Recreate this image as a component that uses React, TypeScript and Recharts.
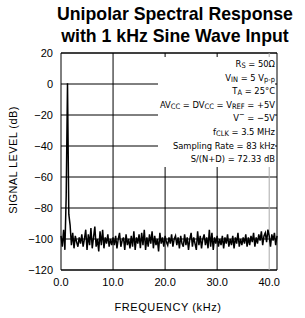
import {
  CartesianGrid,
  Line,
  LineChart,
  ReferenceArea,
  ReferenceLine,
  XAxis,
  YAxis,
} from "recharts";

// FFT bin spacing of the plotted trace (kHz)
const binWidthKHz = 0.25;

// signal level per bin (dB)
const levelDb = [
  -98, -105, -94, -107, -72, 0.5, -84, -91, -104, -96,
  -106, -98, -102, -105, -99, -103, -97, -105, -100, -94,
  -107, -97, -104, -93, -106, -99, -92, -105, -100, -108,
  -95, -104, -94, -106, -99, -103, -97, -105, -100, -104,
  -99,
  -104, -98, -106, -100, -96, -105, -101, -99, -107, -97,
  -104, -100, -106, -98, -105, -95, -107, -99, -103, -97,
  -106, -96, -104, -94, -107, -99, -105, -97, -103, -95,
  -106, -98, -104, -100, -108, -96, -103, -99, -105, -98,
  -102, -104, -99, -103, -97, -105, -100, -98, -104, -99,
  -106, -98, -103, -105, -97, -104, -99, -107, -100, -96,
  -105, -99, -103, -107, -95, -104, -98, -106, -100, -97,
  -104, -99, -106, -94, -105, -96, -107, -99, -103, -98,
  -105, -100, -104, -98, -106, -99, -103, -97, -105, -100,
  -104, -98, -106, -99, -103, -96, -105, -100, -104, -99,
  -103, -97, -105, -99, -104, -98, -102, -96, -105, -99,
  -103, -97, -101, -95, -104, -98, -96, -102, -94, -98,
  -105, -97, -101, -96, -104, -98,
];

const freqTicks = [0, 10, 20, 30, 40];
const levelTicks = [20, 0, -20, -40, -60, -80, -100, -120];
const darkGridFreqs = [10, 20, 30];
const lightGridFreqs = [40];

const data = levelDb.map((db, i) => ({ freq: i * binWidthKHz, db }));

const sub = (s: string) => (
  <sub style={{ fontSize: "0.8em", verticalAlign: "-0.2em", lineHeight: 0 }}>{s}</sub>
);

const fmtLevel = (v: number) => (v < 0 ? `\u2212${Math.abs(v)}` : `${v}`);

export default function App() {
  return (
    <div
      style={{
        position: "absolute",
        left: 0,
        top: 0,
        width: 305,
        height: 318,
        background: "#fff",
        fontFamily: "'Liberation Sans', Arial, sans-serif",
      }}
    >
      <div
        style={{
          position: "absolute",
          left: 45,
          width: 260,
          top: 3,
          textAlign: "center",
          fontWeight: "bold",
          fontSize: 17.7,
          lineHeight: "22px",
          color: "#000",
        }}
      >
        Unipolar Spectral Response
        <br />
        with 1 kHz Sine Wave Input
      </div>

      <LineChart
        width={305}
        height={318}
        data={data}
        margin={{ top: 53, right: 28, bottom: 0, left: 0 }}
      >
        <CartesianGrid vertical={false} stroke="#000" strokeWidth={1} />
        <XAxis
          dataKey="freq"
          type="number"
          domain={[0, 41.5]}
          ticks={freqTicks}
          tickFormatter={(v: number) => v.toFixed(1)}
          height={48}
          axisLine={false}
          tickLine={false}
          tickSize={0}
          tickMargin={8}
          tick={{ fill: "#000", fontSize: 11 }}
          interval={0}
        />
        <YAxis
          type="number"
          domain={[-120, 20]}
          ticks={levelTicks}
          tickFormatter={fmtLevel}
          width={61}
          axisLine={false}
          tickLine={false}
          tickSize={0}
          tickMargin={8}
          tick={{ fill: "#000", fontSize: 11 }}
          interval={0}
        />
        {darkGridFreqs.map((f) => (
          <ReferenceLine key={f} x={f} stroke="#000" strokeWidth={1} />
        ))}
        {lightGridFreqs.map((f) => (
          <ReferenceLine key={f} x={f} stroke="#aaa" strokeWidth={1} />
        ))}
        <Line
          type="linear"
          dataKey="db"
          stroke="#000"
          strokeWidth={1.5}
          dot={false}
          isAnimationActive={false}
        />
        <ReferenceArea x1={0} x2={41.5} y1={-120} y2={20} fill="none" stroke="#000" strokeWidth={1} />
      </LineChart>

      <div
        style={{
          position: "absolute",
          left: 158,
          top: 57,
          width: 117,
          height: 110,
          background: "#fff",
          textAlign: "right",
          whiteSpace: "nowrap",
          fontFamily: "'DejaVu Sans Condensed', 'Liberation Sans', sans-serif",
          fontStretch: "condensed",
          fontSize: 9.3,
          lineHeight: "13.6px",
          color: "#000",
        }}
      >
        <div>R{sub("S")} = 50Ω</div>
        <div>V{sub("IN")} = 5 V{sub("p-p")}</div>
        <div>T{sub("A")} = 25°C</div>
        <div>
          AV{sub("CC")} = DV{sub("CC")} = V{sub("REF")} = +5V
        </div>
        <div>
          V<sup style={{ fontSize: "0.8em", lineHeight: 0 }}>−</sup> = −5V
        </div>
        <div>f{sub("CLK")} = 3.5 MHz</div>
        <div>Sampling Rate = 83 kHz</div>
        <div>S/(N+D) = 72.33 dB</div>
      </div>

      <div
        style={{
          position: "absolute",
          left: 13,
          top: 160,
          transform: "translate(-50%, -50%) rotate(-90deg)",
          whiteSpace: "nowrap",
          fontSize: 11,
          letterSpacing: 0.4,
          color: "#000",
        }}
      >
        SIGNAL LEVEL (dB)
      </div>
      <div
        style={{
          position: "absolute",
          left: 168,
          top: 307,
          transform: "translate(-50%, -50%)",
          whiteSpace: "nowrap",
          fontSize: 11,
          letterSpacing: 0.6,
          color: "#000",
        }}
      >
        FREQUENCY (kHz)
      </div>
    </div>
  );
}
